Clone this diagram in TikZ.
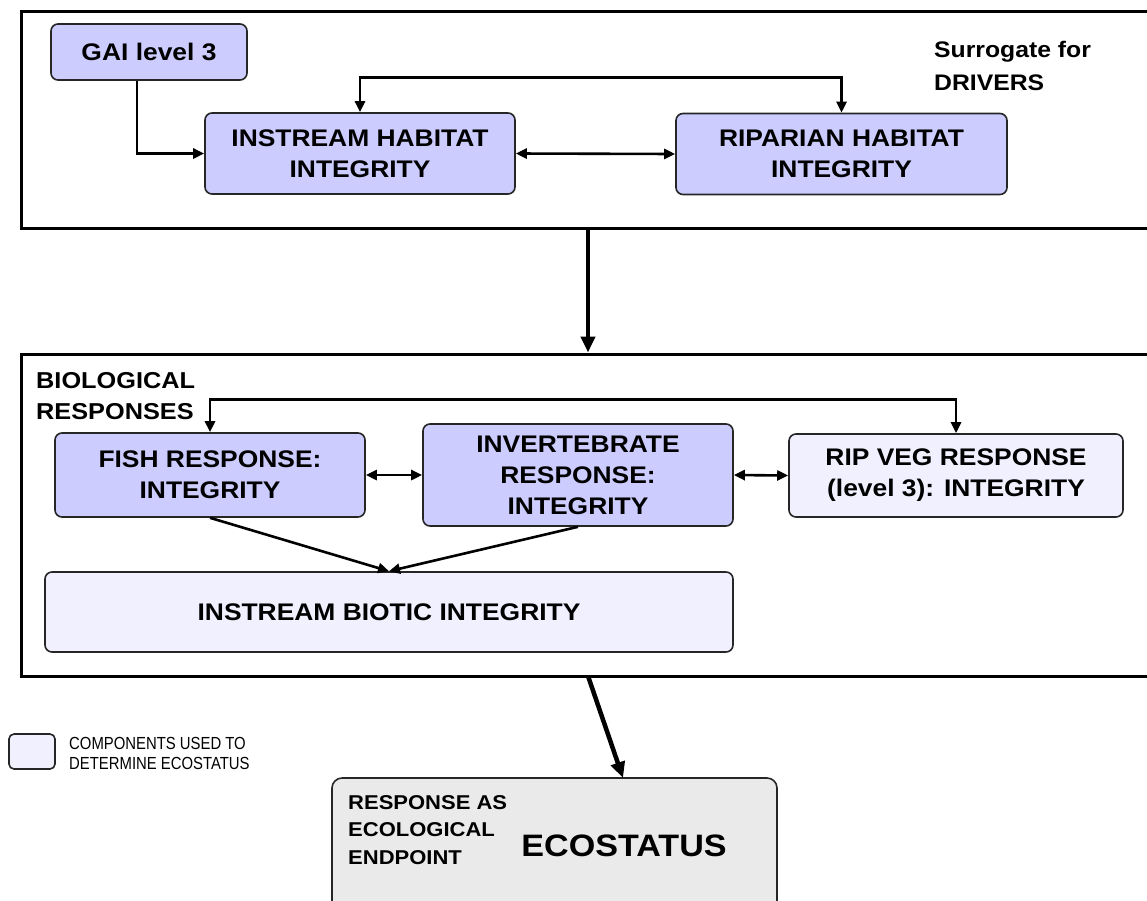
\documentclass[tikz,border=0pt]{standalone}
\usepackage{fontspec}
\setmainfont{Liberation Sans}[FakeStretch=1.1]
\newfontfamily\legfont{Liberation Sans}[FakeStretch=0.85]
\usetikzlibrary{arrows.meta}
\definecolor{boxblue}{RGB}{204,204,255}
\definecolor{boxlight}{RGB}{240,240,255}
\definecolor{boxgray}{RGB}{234,234,234}
\tikzset{
  comp/.style={draw=black!85, line width=1.6pt, rounded corners=7pt, inner sep=0pt,
    align=center, font=\bfseries\fontsize{24}{31}\selectfont},
  compblue/.style={comp, fill=boxblue},
  complight/.style={comp, fill=boxlight},
  outerbox/.style={draw=black, line width=3pt, inner sep=0pt},
  conn/.style={line width=2.6pt, -{Triangle[length=11pt,width=10pt]}},
  dconn/.style={line width=2.6pt, {Triangle[length=11pt,width=10pt]}-{Triangle[length=11pt,width=10pt]}},
  bigarr/.style={line width=4.5pt, -{Triangle[length=16pt,width=14pt]}},
  lbl/.style={inner sep=0pt, anchor=north west, align=left}
}
\begin{document}
\begin{tikzpicture}[x=1pt,y=-1pt]
\useasboundingbox (0,0) rectangle (1147,900);
\clip (0,0) rectangle (1147,900);
\fill[white] (0,0) rectangle (1147,900);

% outer frames
\node[outerbox, minimum width=1139pt, minimum height=217pt] (topbox) at (590.5,119.5) {};
\node[outerbox, minimum width=1139pt, minimum height=322pt] (midbox) at (590.5,515) {};

% top section
\node[compblue, minimum width=196pt, minimum height=56pt] (gai) at (149,52) {GAI level 3};
\node[compblue, minimum width=310pt, minimum height=81pt] (ins) at (360,153.5) {INSTREAM HABITAT\\INTEGRITY};
\node[compblue, minimum width=331pt, minimum height=81pt] (rip) at (841.5,154) {RIPARIAN HABITAT\\INTEGRITY};
\node[lbl, font=\bfseries\fontsize{22.5}{33}\selectfont] (surr) at (934,41) {Surrogate for\\DRIVERS};

% middle section
\node[lbl, font=\bfseries\fontsize{23}{31}\selectfont] (bio) at (36,372) {BIOLOGICAL\\RESPONSES};
\node[compblue, minimum width=310pt, minimum height=84pt] (fish) at (210,475) {FISH RESPONSE:\\INTEGRITY};
\node[compblue, minimum width=310pt, minimum height=102pt] (inv) at (578,475) {INVERTEBRATE\\RESPONSE:\\INTEGRITY};
\node[complight, minimum width=334pt, minimum height=83pt] (veg) at (956,475.5) {RIP VEG RESPONSE\\(level 3): INTEGRITY};
\node[complight, minimum width=688pt, minimum height=80pt] (biot) at (389,612) {INSTREAM BIOTIC INTEGRITY};

% legend
\node[draw=black!85, line width=1.6pt, fill=boxlight, rounded corners=5pt,
      minimum width=46pt, minimum height=35pt, inner sep=0pt] (leg) at (32,751.5) {};
\node[lbl, font=\legfont\fontsize{17.5}{20}\selectfont] (legtxt) at (69,737) {COMPONENTS USED TO\\DETERMINE ECOSTATUS};

% ecostatus
\node[draw=black!85, line width=1.6pt, fill=boxgray, rounded corners=10pt,
      minimum width=445pt, minimum height=140pt, inner sep=0pt] (eco) at (554.5,848) {};
\node[lbl, font=\bfseries\fontsize{20}{27.5}\selectfont] (ecolbl) at (348,795) {RESPONSE AS\\ECOLOGICAL\\ENDPOINT};
\node[inner sep=0pt, font=\bfseries\fontsize{31}{36}\selectfont] (ecot) at (624,846) {ECOSTATUS};

% connectors
\draw[conn] ([xshift=-12pt]gai.south) |- (ins.west);
\draw[dconn] (ins.east) -- (rip.west);
\draw[dconn] (ins.north) -- ++(0,-35) -| (rip.north);
\coordinate (t1) at (588,228);
\draw[bigarr] (t1) -- (t1 |- midbox.north);

\draw[dconn] (fish.north) -- ++(0,-33) -| (veg.north);
\draw[dconn] (fish.east) -- (inv.west);
\draw[dconn] (inv.east) -- (veg.west);
\draw[conn] (fish.south) -- (biot.north);
\draw[conn] (inv.south) -- (biot.north);

\coordinate (m1) at (588,676);
\coordinate (e1) at (623,778);
\draw[bigarr] (m1) -- (e1);
\end{tikzpicture}
\end{document}
